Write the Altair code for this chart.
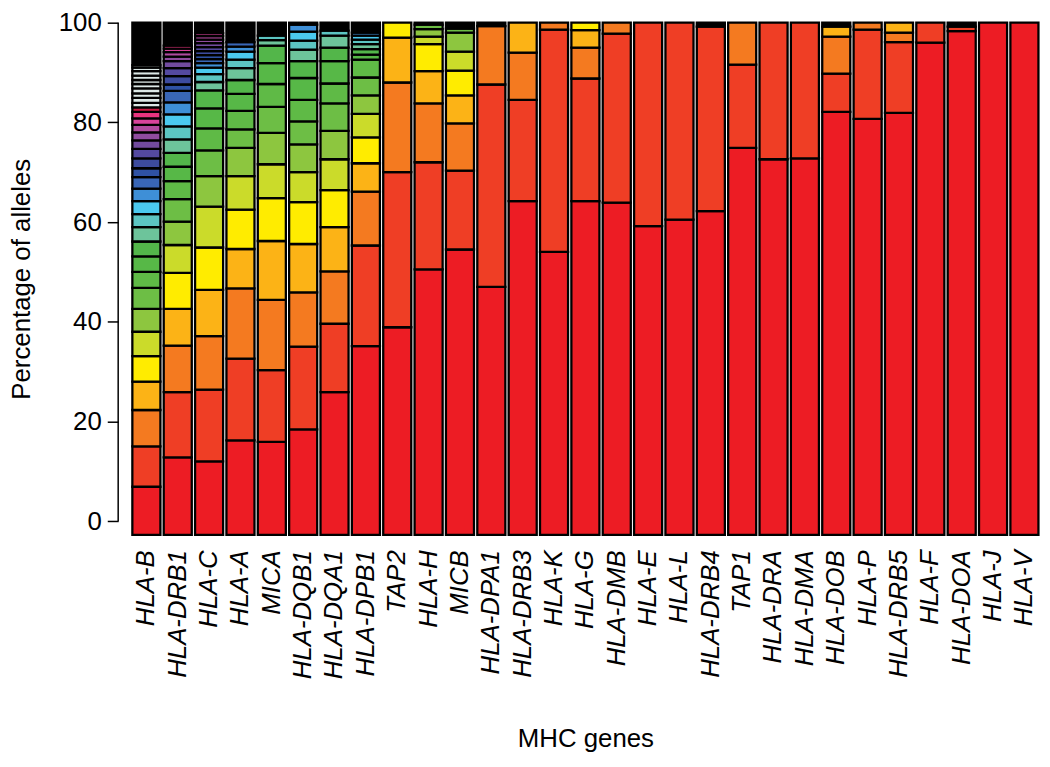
import altair as alt
import pandas as pd

# Genes in plotted order
GENES = ["HLA-B", "HLA-DRB1", "HLA-C", "HLA-A", "MICA", "HLA-DQB1", "HLA-DQA1",
         "HLA-DPB1", "TAP2", "HLA-H", "MICB", "HLA-DPA1", "HLA-DRB3", "HLA-K",
         "HLA-G", "HLA-DMB", "HLA-E", "HLA-L", "HLA-DRB4", "TAP1", "HLA-DRA",
         "HLA-DMA", "HLA-DOB", "HLA-P", "HLA-DRB5", "HLA-F", "HLA-DOA", "HLA-J", "HLA-V"]

# Cumulative percentage (upper edge) of each allele, most frequent first.
# Whatever remains up to 100 is the block of rare alleles (drawn black).
HLA_B = [6.9, 15.0, 22.3, 28.0, 33.1, 38.0, 42.6, 46.8, 50.0, 53.1, 56.1, 59.0, 61.6,
         64.2, 66.7, 69.0, 70.8, 72.8, 74.7, 76.4, 78.0, 79.5, 80.8, 82.1, 83.0,
         83.9, 84.9, 85.8, 86.8, 87.7, 88.5, 89.4, 90.3, 91.0, 91.5]
HLA_DRB1 = [12.8, 25.9, 35.2, 42.6, 49.8, 55.4, 60.1, 64.6, 68.2, 71.1, 73.9, 76.6,
            79.2, 81.6, 84.0, 86.3, 87.6, 89.3, 90.9, 92.3, 93.2, 94.1, 94.8, 95.4]
HLA_C = [12.0, 26.4, 37.1, 46.4, 54.9, 63.1, 69.2, 74.4, 78.8, 82.8, 86.4, 88.1, 89.7,
         91.0, 91.9, 92.7, 93.5, 94.3, 95.1, 95.9, 96.6, 97.3, 97.9]
HLA_A = [16.2, 32.6, 46.7, 54.6, 62.5, 69.2, 74.9, 78.6, 82.3, 85.7, 88.5, 90.9, 92.6,
         94.2, 95.2, 96.1]
MICA = [15.9, 30.3, 44.4, 56.2, 64.8, 71.6, 77.9, 83.1, 87.7, 91.9, 95.4, 96.5, 97.4]
HLA_DQB1 = [18.4, 35.0, 45.9, 55.6, 64.0, 70.0, 75.6, 80.2, 84.5, 88.9, 92.3, 94.6,
            96.4, 98.2, 99.6]
HLA_DQA1 = [25.9, 39.6, 50.1, 59.0, 66.4, 72.6, 78.3, 83.8, 87.8, 92.3, 95.0, 97.4, 98.4]
HLA_DPB1 = [35.1, 55.3, 66.1, 71.8, 77.0, 81.7, 85.4, 89.0, 92.6, 93.6, 94.7, 95.7,
            96.6, 97.4, 98.0]
TAP2 = [38.9, 70.0, 88.0, 97.0, 100.0]
HLA_H = [50.5, 72.0, 83.8, 90.3, 95.7, 97.2, 98.7, 99.6]
MICB = [54.5, 70.3, 79.8, 85.4, 90.4, 94.2, 98.0, 98.8]
HLA_DPA1 = [47.0, 87.6, 99.3]
HLA_DRB3 = [64.2, 84.5, 94.0, 100.0]
HLA_K = [54.0, 98.6, 100.0]
HLA_G = [64.2, 88.8, 95.0, 98.5, 100.0]
HLA_DMB = [63.9, 97.8, 100.0]
HLA_E = [59.2, 100.0]
HLA_L = [60.5, 100.0]
HLA_DRB4 = [62.2, 99.2]
TAP1 = [74.9, 91.6, 100.0]
HLA_DRA = [72.6, 100.0]
HLA_DMA = [72.8, 100.0]
HLA_DOB = [82.1, 89.8, 97.2, 99.2]
HLA_P = [80.7, 98.6, 100.0]
HLA_DRB5 = [81.9, 96.1, 98.0, 100.0]
HLA_F = [96.0, 100.0]
HLA_DOA = [98.3, 99.2]
HLA_J = [100.0]
HLA_V = [100.0]

GENE_BOUNDS = [HLA_B, HLA_DRB1, HLA_C, HLA_A, MICA, HLA_DQB1, HLA_DQA1, HLA_DPB1,
               TAP2, HLA_H, MICB, HLA_DPA1, HLA_DRB3, HLA_K, HLA_G, HLA_DMB, HLA_E,
               HLA_L, HLA_DRB4, TAP1, HLA_DRA, HLA_DMA, HLA_DOB, HLA_P, HLA_DRB5,
               HLA_F, HLA_DOA, HLA_J, HLA_V]

# Colour by allele rank
RANK_COLORS = ["#ED1C24", "#EF3E25", "#F47A20", "#FCB316", "#FFEC00", "#CBDB2A",
               "#8DC63F", "#6DBE45", "#5FBA46", "#57B847", "#53B64A", "#6DC49B",
               "#5CC5C2", "#4BC9EF", "#3E8FD7", "#3966B7", "#2F52A4", "#3D4B9E",
               "#5449A0", "#724B9E", "#904C9F", "#B04B9F", "#D8439B", "#E9347F",
               "#C8173F"]
LATE_RANK_COLOR = "#DCE8E6"
RARE_COLOR = "#000000"

Y_MIN = -2.75  # bars start slightly below the 0 tick, as in the original

rows = []
for gene, bounds in zip(GENES, GENE_BOUNDS):
    prev = 0.0
    for i, b in enumerate(bounds):
        col = RANK_COLORS[i] if i < len(RANK_COLORS) else LATE_RANK_COLOR
        rows.append({"gene": gene, "lo": prev if i > 0 else Y_MIN, "hi": b, "color": col})
        prev = b
    if prev < 100:
        rows.append({"gene": gene, "lo": prev, "hi": 100.0, "color": RARE_COLOR})
df = pd.DataFrame(rows)

FONT = "Liberation Sans"
AXIS_OFFSET = 12.7
yscale = alt.Scale(domain=[Y_MIN, 100], nice=False, zero=False)
y_axis = alt.Axis(title="Percentage of alleles", values=[0, 20, 40, 60, 80, 100],
                  format="d", domain=False, grid=False, tickSize=11, tickWidth=1.5,
                  tickColor="black", labelFontSize=26, labelPadding=6,
                  titleFontSize=26, titleFontWeight="normal", titlePadding=24,
                  offset=AXIS_OFFSET)

bars = alt.Chart(df).mark_bar(stroke="black", strokeWidth=2.3).encode(
    x=alt.X("gene:N", sort=GENES,
            scale=alt.Scale(paddingInner=0.105, paddingOuter=0.05),
            axis=alt.Axis(title="MHC genes", labelAngle=-90, labelFontStyle="italic",
                          labelFontSize=26, domain=False, ticks=False, labelPadding=15,
                          titlePadding=47, titleFontSize=26, titleFontWeight="normal",
                          labelLimit=400)),
    y=alt.Y("lo:Q", scale=yscale, axis=y_axis),
    y2="hi:Q",
    color=alt.Color("color:N", scale=None),
)

axis_line = alt.Chart(pd.DataFrame({"lo": [0], "hi": [100]})).mark_rule(
    color="black", strokeWidth=1.5
).encode(
    x=alt.value(-AXIS_OFFSET),
    y=alt.Y("lo:Q", scale=yscale, axis=y_axis),
    y2="hi:Q",
)

chart = alt.layer(bars, axis_line).properties(
    width=916, height=516,
    autosize=alt.AutoSizeParams(type="none"),
    padding={"left": 123.7, "top": 12, "right": 2, "bottom": 222},
).configure_view(stroke=None).configure_axis(
    labelFont=FONT, titleFont=FONT, labelColor="black", titleColor="black"
)

chart.save("out.html", embed_options={"renderer": "svg", "actions": False})
